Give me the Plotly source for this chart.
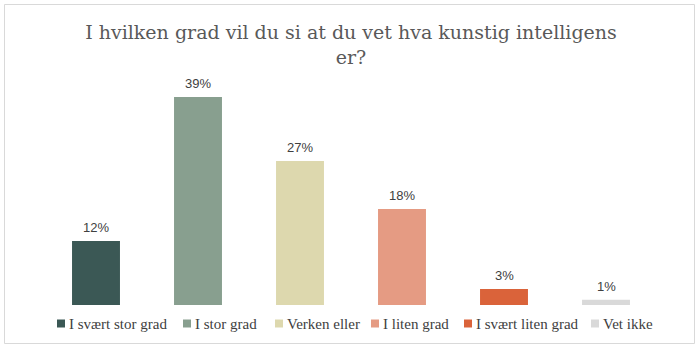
import plotly.graph_objects as go

# Survey answers and their shares (%)
categories = ["I svært stor grad", "I stor grad", "Verken eller",
              "I liten grad", "I svært liten grad", "Vet ikke"]
shares = [12, 39, 27, 18, 3, 1]
colors = ["#3B5855", "#889F8F", "#DDD8AE", "#E59B83", "#DA633A", "#D9D9D9"]

title_text = "I hvilken grad vil du si at du vet hva kunstig intelligens<br>er?"

W, H = 700, 349
M_L, M_R, M_T, M_B = 45, 43, 65, 44
plot_w = W - M_L - M_R
plot_h = H - M_T - M_B

# Legend entry positions (left edge of the swatch, pixels)
legend_px = [57, 183, 275, 371, 464, 591]
legend_y_px = 323.5

SERIF = "DejaVu Serif"
LEG_SERIF = "Liberation Serif"
SANS = "Liberation Sans"

fig = go.Figure()
for cat, val, col in zip(categories, shares, colors):
    fig.add_trace(go.Bar(
        x=[cat], y=[val], name=cat,
        marker=dict(color=col, line=dict(width=0)),
        width=0.47, showlegend=False,
    ))


def px_to_paper_x(px):
    return (px - M_L) / plot_w


def px_to_paper_y(py):
    return (H - M_B - py) / plot_h


annotations = []
# value labels above each bar
for cat, val in zip(categories, shares):
    annotations.append(dict(x=cat, y=val, xref="x", yref="y",
                            text=f"{val}%", showarrow=False,
                            xanchor="center", yanchor="bottom", yshift=4,
                            font=dict(family=SANS, size=13, color="#404040")))

shapes = [dict(type="rect", xref="paper", yref="paper",
               x0=px_to_paper_x(4.5), x1=px_to_paper_x(694.5),
               y0=px_to_paper_y(343.5), y1=px_to_paper_y(4.5),
               line=dict(color="#D9D9D9", width=1), fillcolor="rgba(0,0,0,0)",
               layer="below")]
sw = 8
for cat, col, lx in zip(categories, colors, legend_px):
    shapes.append(dict(type="rect", xref="paper", yref="paper",
                       x0=px_to_paper_x(lx), x1=px_to_paper_x(lx + sw),
                       y0=px_to_paper_y(legend_y_px + sw / 2),
                       y1=px_to_paper_y(legend_y_px - sw / 2),
                       line=dict(width=0), fillcolor=col))
    annotations.append(dict(xref="paper", yref="paper",
                            x=px_to_paper_x(lx + sw + 2), y=px_to_paper_y(legend_y_px),
                            xanchor="left", yanchor="middle", showarrow=False,
                            text=cat, font=dict(family=LEG_SERIF, size=15, color="#404040")))

fig.update_layout(
    width=W, height=H,
    margin=dict(l=M_L, r=M_R, t=M_T, b=M_B),
    paper_bgcolor="white", plot_bgcolor="white",
    barmode="relative",
    title=dict(text=title_text, x=0.5, xref="paper", xanchor="center",
               y=1 - 39 / H, yanchor="middle",
               font=dict(family=SERIF, size=19, color="#595959")),
    xaxis=dict(showticklabels=False, showgrid=False, zeroline=False,
               showline=False, ticks=""),
    yaxis=dict(range=[0, 45], showticklabels=False, showgrid=False,
               zeroline=False, showline=False, ticks=""),
    shapes=shapes, annotations=annotations,
    showlegend=False,
)

fig.write_html("out.html")
